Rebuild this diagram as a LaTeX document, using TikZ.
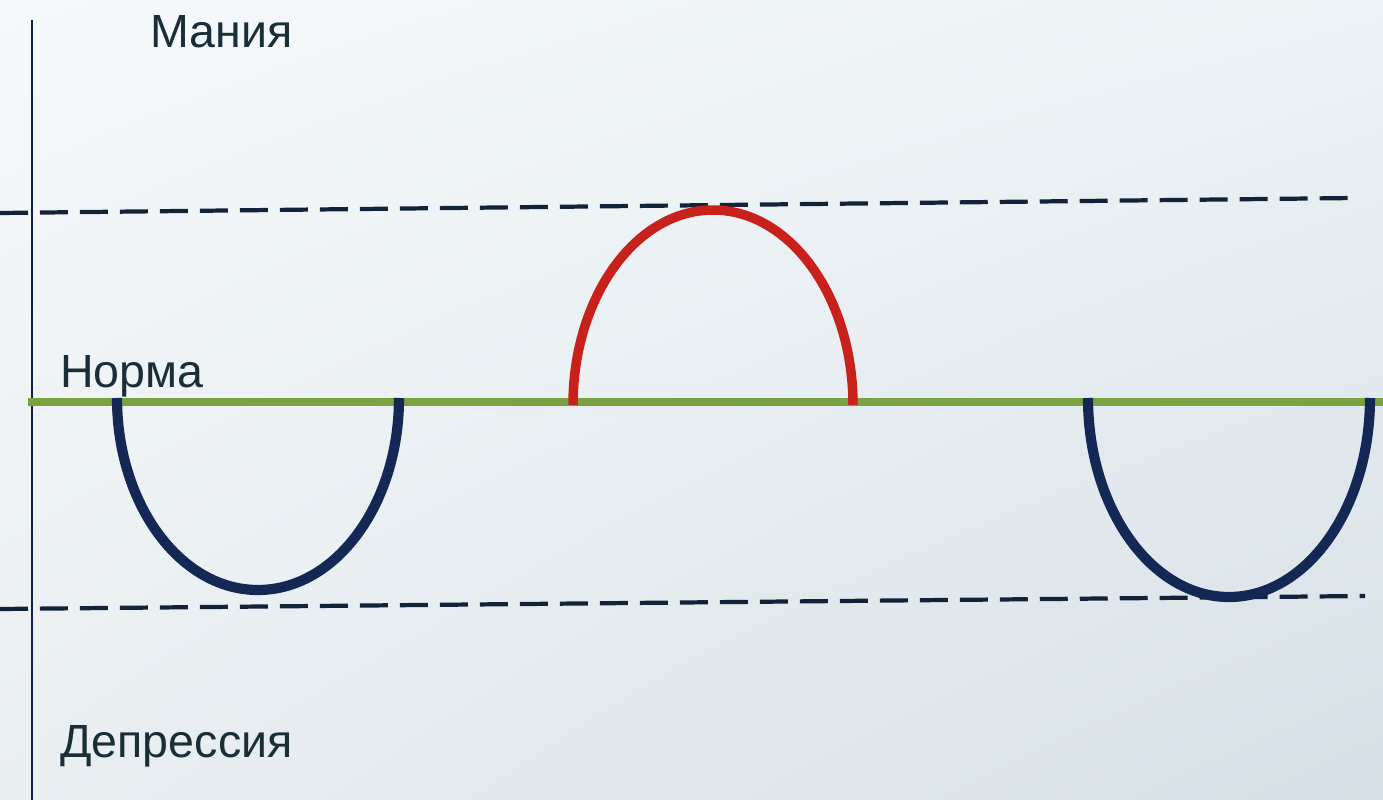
\documentclass[tikz,border=0pt]{standalone}
\usepackage{fontspec}
\setmainfont{Liberation Sans}
\usetikzlibrary{shadings}
\definecolor{bgA}{RGB}{246,249,251}
\definecolor{bgB}{RGB}{236,242,245}
\definecolor{bgC}{RGB}{233,238,241}
\definecolor{bgD}{RGB}{214,224,230}
\definecolor{navy}{RGB}{20,40,86}
\definecolor{dashc}{RGB}{18,34,56}
\definecolor{txt}{RGB}{26,46,56}
\definecolor{redc}{RGB}{200,32,26}
\definecolor{greenc}{RGB}{122,162,64}
\tikzset{
  lbl/.style={anchor=base west, inner sep=0pt, text=txt, font=\fontsize{26.5}{30}\selectfont},
  dashline/.style={draw=dashc, line width=2.4pt, dash pattern=on 0.56cm off 0.24cm},
  normline/.style={draw=greenc, line width=4.8pt},
  downcurve/.style={draw=navy, line width=5.8pt},
  upcurve/.style={draw=redc, line width=5.4pt},
  axisline/.style={draw=navy!80!black, line width=1.1pt}
}
\begin{document}
\begin{tikzpicture}[x=0.02cm, y=-0.02cm]
\useasboundingbox (0,0) rectangle (1383,800);
\shade[upper left=bgA, upper right=bgB, lower left=bgC, lower right=bgD] (0,0) rectangle (1383,800);
% axis
\coordinate (axTop) at (32,20);
\coordinate (axBot) at (32,800);
\draw[axisline] (axTop) -- (axBot);
% dashed limits
\coordinate (upL) at (0,213);
\coordinate (upR) at (1355,198);
\coordinate (loL) at (0,609);
\coordinate (loR) at (1365,596);
\draw[dashline] (upL) -- (upR);
\draw[dashline] (loL) -- (loR);
% norm line
\coordinate (nL) at (28,402);
\coordinate (nR) at (1383,402);
\draw[normline] (nL) -- (nR);
% curves
\coordinate (d1) at (117,398);
\draw[downcurve] (d1) arc[start angle=180, end angle=360, x radius=141, y radius=-192];
\coordinate (m1) at (573,405);
\draw[upcurve] (m1) arc[start angle=180, end angle=0, x radius=140, y radius=-195];
\coordinate (d2) at (1088,398);
\draw[downcurve] (d2) arc[start angle=180, end angle=360, x radius=141, y radius=-199];
% labels
\node[lbl] (mania) at (150,48) {Мания};
\node[lbl] (norma) at (60,388) {Норма};
\node[lbl] (depr) at (60,757) {Депрессия};
\end{tikzpicture}
\end{document}
